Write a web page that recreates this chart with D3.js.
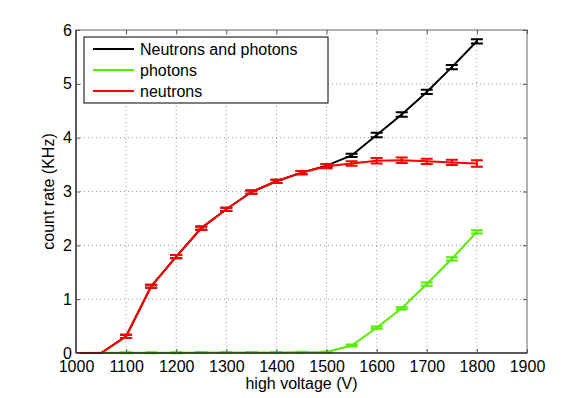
<!DOCTYPE html>
<html lang="en">
<head>
<meta charset="UTF-8">
<script src="https://d3js.org/d3.v7.min.js"></script>
<title>count rate</title>
<style>
  body { margin: 0; background: #fff; }
  text { font-family: "Liberation Sans", Arial, sans-serif; }
</style>
</head>
<body>
<script>
// voltages (V)
var voltage = [1000, 1050, 1100, 1150, 1200, 1250, 1300, 1350, 1400, 1450, 1500, 1550, 1600, 1650, 1700, 1750, 1800];
// count rates (KHz)
var total    = [0, 0, 0.31, 1.24, 1.79, 2.32, 2.67, 2.99, 3.19, 3.35, 3.48, 3.67, 4.05, 4.43, 4.85, 5.31, 5.79];
var photons  = [0, 0.005, 0.005, 0.005, 0.005, 0.01, 0.01, 0.01, 0.01, 0.015, 0.02, 0.14, 0.47, 0.83, 1.28, 1.75, 2.25];
var neutrons = [0, 0, 0.31, 1.24, 1.79, 2.32, 2.67, 2.99, 3.19, 3.35, 3.47, 3.52, 3.57, 3.58, 3.56, 3.54, 3.52];
var errTotal    = [0, 0, 0.03, 0.03, 0.03, 0.03, 0.03, 0.03, 0.03, 0.03, 0.03, 0.03, 0.04, 0.04, 0.04, 0.04, 0.04];
var errPhotons  = [0, 0, 0.01, 0.01, 0.01, 0.01, 0.01, 0.01, 0.01, 0.01, 0.01, 0.02, 0.02, 0.02, 0.03, 0.03, 0.03];
var errNeutrons = [0, 0, 0.03, 0.03, 0.03, 0.03, 0.03, 0.03, 0.03, 0.03, 0.04, 0.04, 0.05, 0.05, 0.05, 0.05, 0.06];
var xTicks = [1000, 1100, 1200, 1300, 1400, 1500, 1600, 1700, 1800, 1900];
var yTicks = [0, 1, 2, 3, 4, 5, 6];
var seriesNames = ["Neutrons and photons", "photons", "neutrons"];
var seriesColors = ["#000000", "#55ee00", "#ff0000"];

var w = 581, h = 398;
var pl = 76, pr = 527, pt = 30, pb = 353;

var svg = d3.select("body").append("svg").attr("width", w).attr("height", h);

var x = d3.scaleLinear().domain([1000, 1900]).range([pl, pr]);
var y = d3.scaleLinear().domain([0, 6]).range([pb, pt]);

// grid
var grid = svg.append("g");
grid.selectAll(".gx").data(xTicks.slice(1, -1)).enter().append("line")
  .attr("x1", d => x(d)).attr("x2", d => x(d)).attr("y1", pt).attr("y2", pb)
  .attr("stroke", "#999").attr("stroke-width", 1).attr("stroke-dasharray", "1,3");
grid.selectAll(".gy").data(yTicks.slice(1, -1)).enter().append("line")
  .attr("x1", pl).attr("x2", pr).attr("y1", d => y(d)).attr("y2", d => y(d))
  .attr("stroke", "#999").attr("stroke-width", 1).attr("stroke-dasharray", "1,3");

// series
var data = [
  { v: total, e: errTotal },
  { v: photons, e: errPhotons },
  { v: neutrons, e: errNeutrons }
];
var line = d3.line().x((d, i) => x(voltage[i])).y(d => y(d));

data.forEach(function(s, k) {
  var g = svg.append("g");
  g.append("path").datum(s.v).attr("d", line)
    .attr("fill", "none").attr("stroke", seriesColors[k]).attr("stroke-width", 2);
  var pts = s.v.map((d, i) => ({ x: voltage[i], v: d, e: s.e[i] })).filter(d => d.e > 0);
  g.selectAll(".eb").data(pts).enter().append("path")
    .attr("d", function(d) {
      var cx = x(d.x), y1 = y(d.v - d.e), y2 = y(d.v + d.e);
      return "M" + (cx - 6) + "," + y1 + "H" + (cx + 6) +
             "M" + (cx - 6) + "," + y2 + "H" + (cx + 6) +
             "M" + cx + "," + y1 + "V" + y2;
    })
    .attr("fill", "none").attr("stroke", seriesColors[k]).attr("stroke-width", 2);
});

// axes box
svg.append("rect").attr("x", pl).attr("y", pt).attr("width", pr - pl).attr("height", pb - pt)
  .attr("fill", "none").attr("stroke", "#666").attr("stroke-width", 1);
svg.append("line").attr("x1", pl).attr("x2", pl).attr("y1", pt).attr("y2", pb).attr("stroke", "#000");
svg.append("line").attr("x1", pl).attr("x2", pr).attr("y1", pb).attr("y2", pb).attr("stroke", "#000");

svg.append("g").attr("transform", "translate(0," + pb + ")")
  .call(d3.axisBottom(x).tickValues(xTicks).tickFormat(d3.format("d")).tickSizeInner(-4).tickSizeOuter(0).tickPadding(8));
svg.append("g").attr("transform", "translate(" + pl + ",0)")
  .call(d3.axisLeft(y).tickValues(yTicks).tickFormat(d3.format("d")).tickSizeInner(-4).tickSizeOuter(0).tickPadding(4));
svg.append("g").attr("transform", "translate(0," + pt + ")")
  .call(d3.axisTop(x).tickValues(xTicks).tickSizeInner(-4).tickSizeOuter(0).tickFormat(""));
svg.append("g").attr("transform", "translate(" + pr + ",0)")
  .call(d3.axisRight(y).tickValues(yTicks).tickSizeInner(-4).tickSizeOuter(0).tickFormat(""));
svg.selectAll(".domain").remove();
svg.selectAll(".tick line").attr("stroke", "#555");
svg.selectAll("g").attr("font-size", null).attr("font-family", null);
svg.selectAll(".tick text").attr("font-size", 16).attr("fill", "#000");

// axis labels
svg.append("text").attr("x", (pl + pr) / 2).attr("y", 389).attr("text-anchor", "middle")
  .attr("font-size", 16).text("high voltage (V)");
svg.append("text").attr("transform", "translate(54," + ((pt + pb) / 2) + ") rotate(-90)")
  .attr("text-anchor", "middle").attr("font-size", 16).text("count rate (KHz)");

// legend
var lg = svg.append("g");
lg.append("rect").attr("x", 84).attr("y", 37).attr("width", 244).attr("height", 66)
  .attr("fill", "#fff").attr("stroke", "#000").attr("stroke-width", 1);
seriesNames.forEach(function(n, i) {
  var ly = 49 + i * 21;
  lg.append("line").attr("x1", 93).attr("x2", 134).attr("y1", ly).attr("y2", ly)
    .attr("stroke", seriesColors[i]).attr("stroke-width", 2);
  lg.append("text").attr("x", 140).attr("y", ly + 6).attr("font-size", 16).text(n);
});
</script>
</body>
</html>
